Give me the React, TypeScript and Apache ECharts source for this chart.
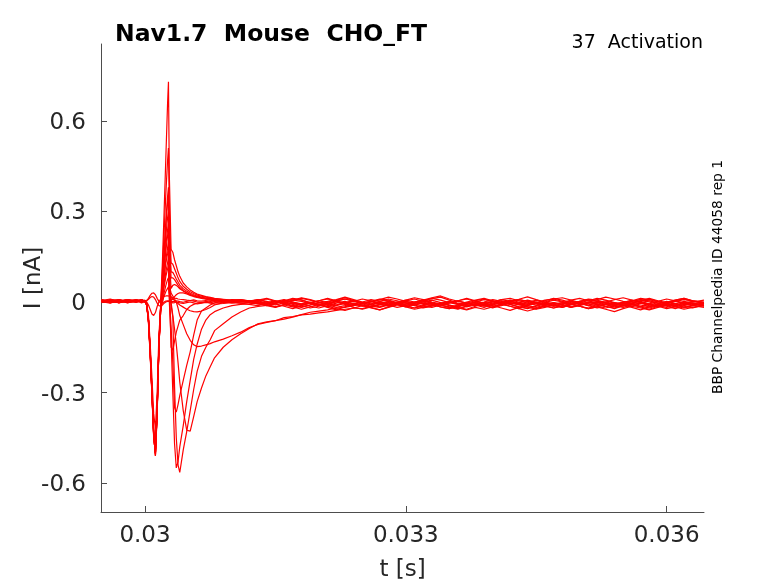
import React, { useEffect, useRef } from "react";
import * as echarts from "echarts";

// time grid in ms
const T_MS = [
  29.5, 29.6, 29.7, 29.8, 29.9, 29.96, 30,
  30.02, 30.04, 30.06, 30.08, 30.1, 30.12, 30.14, 30.16, 30.18, 30.2, 30.22, 30.24, 30.26, 30.27, 30.28, 30.3, 30.32, 30.34, 30.36, 30.38, 30.4,
  30.44, 30.48, 30.52, 30.56, 30.6, 30.65, 30.7, 30.75, 30.8, 30.9, 31, 31.1, 31.2,
  31.3, 31.4, 31.5, 31.6, 31.7, 31.8, 31.9, 32, 32.1, 32.2,
  32.3, 32.4, 32.5, 32.6, 32.7, 32.8, 32.9, 33, 33.1, 33.2,
  33.3, 33.4, 33.5, 33.6, 33.7, 33.8, 33.9, 34, 34.1, 34.2,
  34.3, 34.4, 34.5, 34.6, 34.7, 34.8, 34.9, 35, 35.1, 35.2,
  35.3, 35.4, 35.5, 35.6, 35.7, 35.8, 35.9, 36, 36.1, 36.2,
  36.3, 36.43,
];

// currents in pA
const trace01 = [
  5, 10, 2, 8, 3, 6, 4,
  5, 12, 22, 29, 30, 24, 12, 2, -4, -3, 0, 3, 4, 4, 3, 2, 1, 2, 4, 3, 1,
  -1, 2, 5, 3, 0, -2, 1, 4, 6, 2, -3, 0, 3,
  8, 2, -6, 4, 12, 7, -3, -9, 0, 6,
  14, 5, -4, 2, 10, 6, -2, -10, -5, 4,
  11, 16, 6, -4, -8, 0, 8, 4, -2, 2,
  9, 17, 8, 0, -6, -2, 6, 12, 4, -4,
  0, 8, 14, 6, -2, -6, 2, 10, 4, -4,
  0, 6,
];
const trace02 = [
  1, -4, 6, 0, 5, -3, 2,
  4, 9, 15, 18, 16, 8, -4, -12, -14, -10, -4, 0, 2, 2, 1, -1, -3, -2, 0, -1, -3,
  -5, -2, 0, -3, -6, -4, -1, -3, -7, -5, -2, -4, -8,
  -12, -4, 2, -6, -14, -18, -10, -2, -6, -12,
  -4, 4, -2, -10, -16, -8, 0, -4, -12, -20,
  -14, -6, 0, -8, -16, -10, -2, 2, -6, -14,
  -22, -12, -4, -8, -2, -10, -18, -12, -4, 0,
  -8, -16, -10, -6, -14, -20, -12, -2, -6, -10,
  -4, -12,
];
const trace03 = [
  6, 2, -2, 8, 4, 0, 5,
  0, -10, -25, -40, -45, -35, -15, 0, 10, 15, 18, 20, 20, 20, 19, 17, 15, 13, 12, 10, 9,
  8, 6, 5, 7, 4, 3, 5, 2, 4, 1, 3, 0, 2,
  8, 0, -4, 2, 10, 6, -2, 4, 12, 4,
  -4, -8, 0, 8, 2, -6, 0, 6, 14, 8,
  0, -6, -2, 4, 10, 2, -4, 0, 8, 12,
  4, -4, -10, -2, 6, 0, -6, 2, 10, 6,
  -2, -8, 0, 4, 12, 8, 0, -4, 2, 8,
  4, -2,
];
const trace04 = [
  2, 7, 4, -3, 6, 1, 3,
  -6, -45, -140, -250, -370, -420, -300, -110, -20, 0, 20, 35, 45, 50, 30, 15, 10, 5, 0, -5, -10,
  -17, -24, -29, -32, -33, -30, -25, -18, -10, -2, 6, 4, 2,
  -2, -8, -16, -10, -4, -12, -20, -14, -6, 0,
  -8, -18, -24, -16, -8, -12, -4, 2, -6, -14,
  -18, -10, -16, -22, -14, -6, -10, -18, -12, -4,
  -8, -16, -24, -18, -10, -2, -8, -14, -20, -12,
  -6, -12, -18, -10, -4, -12, -16, -8, -14, -20,
  -12, -6,
];
const trace05 = [
  7, -1, 3, 8, 1, 2, 5,
  -8, -55, -160, -290, -430, -490, -350, -140, -30, 0, 30, 55, 75, 80, 50, 30, 20, 10, 0, -20, -45,
  -75, -105, -127, -142, -148, -146, -142, -138, -132, -123, -112, -100, -85,
  -74, -68, -62, -57, -50, -42, -34, -30, -26, -20,
  -18, -12, -6, -14, -10, -2, -8, -16, -10, -4,
  -8, -16, -22, -12, -4, -10, -18, -8, -2, -8,
  -16, -20, -12, -4, -10, -18, -8, 0, -6, -14,
  -20, -12, -4, -8, -16, -24, -14, -6, -10, -18,
  -12, -4,
];
const trace06 = [
  -2, 5, 2, 7, -1, 4, 1,
  -10, -60, -165, -300, -440, -500, -360, -150, -30, 10, 50, 85, 110, 120, 40, 0, -45, -90, -140, -200, -265,
  -360, -425, -428, -380, -330, -285, -245, -215, -185, -150, -125, -105, -88,
  -72, -66, -62, -52, -48, -43, -40, -36, -33, -28,
  -24, -20, -22, -14, -18, -10, -4, -12, -20, -12,
  -4, -10, -18, -24, -14, -6, -12, -20, -10, -2,
  -8, -16, -22, -12, -4, -10, -18, -8, 0, -8,
  -14, -22, -12, -4, -10, -16, -6, 2, -6, -14,
  -20, -10,
];
const trace07 = [
  3, -1, 6, 2, 5, 8, 2,
  -9, -60, -160, -290, -430, -490, -350, -140, -20, 20, 60, 100, 130, 150, 30, -10, -50, -280, -450, -540, -565,
  -490, -430, -360, -290, -230, -180, -150, -125, -95, -72, -50, -33, -20,
  -15, -11, -6, -14, -22, -12, -4, -10, -18, -26,
  -16, -8, -12, -20, -26, -16, -8, -2, -10, -18,
  -12, -4, -10, -18, -24, -14, -6, -12, -20, -28,
  -18, -10, -4, -12, -20, -14, -6, -14, -22, -16,
  -8, -2, -10, -18, -26, -16, -8, -14, -22, -12,
  -4, -10,
];
const trace08 = [
  1, 6, -2, 3, 8, 2, 0,
  -10, -65, -170, -305, -445, -505, -360, -140, -20, 30, 80, 130, 160, 180, 0, -120, -300, -470, -550, -530, -480,
  -410, -330, -260, -190, -140, -90, -60, -42, -32, -20, -12, -8, -6,
  -3, -10, -16, -8, 0, -6, -14, -20, -12, -4,
  2, -6, -14, -8, -2, -10, -18, -12, -4, 0,
  -8, -16, -22, -14, -6, 0, -8, -14, -6, 2,
  -4, -12, -18, -10, -2, -8, -16, -10, -2, -6,
  -14, -20, -12, -4, 2, -6, -12, -18, -10, -2,
  -8, -14,
];
const trace09 = [
  6, 2, 8, -1, 3, 7, 1,
  -10, -60, -165, -300, -440, -510, -370, -150, -30, 30, 90, 140, 180, 200, 20, -80, -200, -350, -365, -340, -310,
  -260, -210, -165, -110, -60, -30, -20, -10, -3, 3, 8, 6, 4,
  2, -6, -2, 6, -2, -10, -4, 4, 10, 2,
  -6, -12, -4, 2, -8, -14, -6, 4, 10, 2,
  -4, -10, -2, 4, -4, -12, -8, 0, 8, 2,
  -6, -2, 6, 0, -8, -14, -4, 2, 8, 2,
  -4, -10, -2, 6, -2, -10, -14, -6, 2, -4,
  -10, -2,
];
const trace10 = [
  2, -2, 4, 6, 0, 7, 3,
  -10, -60, -170, -300, -440, -500, -360, -150, -30, 40, 110, 170, 220, 240, 50, -150, -160, -130, -100, -80, -60,
  -45, -25, -14, -8, -4, -2, 0, -3, 1, -2, 0, -4, -1,
  4, -4, -10, -2, 6, 2, -6, -12, -4, 4,
  10, 2, -6, 0, 8, 4, -4, -8, 0, 6,
  -2, -10, -4, 4, 12, 4, -4, -10, -2, 6,
  0, -8, -2, 6, 10, 2, -6, 0, 8, 2,
  -4, -12, -6, 2, 8, 0, -8, -4, 4, 10,
  2, -4,
];
const trace11 = [
  7, 3, -2, 2, 8, 3, 1,
  -8, -55, -160, -290, -430, -490, -350, -140, -20, 50, 120, 190, 240, 260, 100, 5, 10, 18, 24, 28, 30,
  30, 27, 22, 18, 15, 12, 9, 7, 5, 3, 1, 3, -2,
  -6, -2, 4, -4, -12, -6, 0, -8, -16, -10,
  -2, 4, -4, -10, -4, 2, -6, -14, -8, 0,
  6, -2, -10, -16, -8, -2, -10, -4, 4, -2,
  -10, -6, 0, -8, -14, -6, 2, -4, -12, -8,
  0, -6, -14, -10, -2, 4, -4, -12, -6, 2,
  -4, -10,
];
const trace12 = [
  2, 7, 5, -2, 3, 2, 6,
  -10, -60, -165, -295, -435, -500, -360, -150, -25, 60, 140, 220, 280, 300, 140, 45, 55, 58, 55, 50, 44,
  36, 30, 25, 20, 17, 14, 11, 9, 7, 4, 2, 4, 0,
  6, 12, 4, -2, 6, 14, 8, 0, -6, 2,
  10, 4, -4, 0, 8, 16, 10, 2, -4, 4,
  12, 6, -2, -8, 0, 6, 12, 4, -4, 2,
  8, 2, -6, 0, 10, 14, 6, -2, 4, 12,
  6, -2, -6, 2, 8, 4, -4, 0, 6, 12,
  4, -2,
];
const trace13 = [
  3, -2, 2, 6, 1, 5, 2,
  -9, -60, -160, -290, -430, -490, -355, -145, -20, 70, 160, 250, 330, 350, 190, 80, 80, 74, 65, 56, 48,
  38, 31, 25, 20, 17, 14, 11, 9, 8, 5, 3, 5, 1,
  -6, -12, -4, 2, -8, -16, -10, -2, -8, -18,
  -12, -4, -10, -16, -8, 0, -6, -14, -20, -12,
  -4, -10, -18, -10, -2, -8, -14, -6, 0, -8,
  -16, -22, -14, -6, -12, -18, -10, -4, -12, -20,
  -14, -6, -2, -10, -16, -8, -14, -22, -16, -8,
  -12, -18,
];
const trace14 = [
  1, 4, 7, 2, -1, 3, 2,
  -10, -65, -175, -305, -445, -505, -360, -140, -15, 80, 170, 270, 350, 380, 220, 100, 98, 88, 76, 66, 56,
  44, 36, 29, 24, 20, 16, 13, 11, 9, 6, 4, 6, 2,
  0, -6, 2, 8, 0, -8, -4, 4, -2, -10,
  -4, 2, 10, 4, -4, -10, -2, 6, 0, -8,
  -12, -4, 2, -6, -12, -6, 0, 8, 2, -6,
  -2, 6, 0, -8, -14, -6, 2, -4, -10, -2,
  4, -4, -10, -4, 4, 10, 2, -6, -12, -4,
  2, -4,
];
const trace15 = [
  2, 6, -3, 4, 1, 8, 2,
  -8, -60, -170, -300, -440, -510, -370, -150, -20, 100, 230, 360, 470, 510, 300, 130, 125, 110, 95, 80, 68,
  52, 42, 34, 28, 23, 19, 16, 13, 11, 8, 5, 7, 3,
  -4, -12, -18, -10, -16, -24, -16, -8, -14, -22,
  -28, -20, -12, -18, -26, -18, -10, -16, -24, -18,
  -10, -4, -12, -20, -26, -18, -24, -16, -8, -14,
  -22, -30, -22, -14, -20, -12, -6, -14, -22, -16,
  -24, -32, -22, -14, -20, -26, -18, -10, -16, -24,
  -18, -12,
];
const trace16 = [
  5, 1, 8, 2, 6, -1, 3,
  -10, -70, -180, -310, -450, -500, -360, -140, -10, 130, 300, 480, 660, 730, 420, 175, 165, 140, 120, 100, 85,
  63, 50, 40, 32, 26, 22, 18, 15, 12, 9, 6, 8, 4,
  4, 10, 2, -4, 4, 12, 6, -2, 2, 8,
  16, 8, 0, -6, 2, 10, 4, -4, 0, 6,
  14, 20, 10, 2, -4, 4, 10, 2, -6, 0,
  8, 2, -4, 4, 12, 6, -2, -8, 0, 8,
  16, 10, 2, -4, 4, 12, 4, -2, 6, 12,
  4, 0,
];

const TRACES = [
  trace01, trace02, trace03, trace04, trace05, trace06, trace07, trace08,
  trace09, trace10, trace11, trace12, trace13, trace14, trace15, trace16,
];

const X_TICKS = [0.03, 0.033, 0.036];
const X_TICK_LABELS = ["0.03", "0.033", "0.036"];
const Y_TICKS = [-0.6, -0.3, 0, 0.3, 0.6];
const Y_TICK_LABELS = ["-0.6", "-0.3", "0", "0.3", "0.6"];
const X_RANGE = [0.029494, 0.03643];
const Y_RANGE = [-0.696, 0.855];

const TITLE = "Nav1.7  Mouse  CHO_FT";
const SUBTITLE = "37  Activation";
const SIDE_NOTE = "BBP Channelpedia ID 44058 rep 1";
const X_NAME = "t [s]";
const Y_NAME = "I [nA]";

const FONT = '"DejaVu Sans", sans-serif';
const AXIS_COLOR = "#4d4d4d";
const TEXT_COLOR = "#262626";

function lookup(ticks: number[], labels: string[], v: number) {
  const i = ticks.findIndex((t) => Math.abs(t - v) < 1e-9);
  return i >= 0 ? labels[i] : String(v);
}

export default function App() {
  const ref = useRef<HTMLDivElement>(null);
  useEffect(() => {
    if (!ref.current) return;
    const chart = echarts.init(ref.current, null, { renderer: "svg" });
    chart.setOption({
      animation: false,
      grid: { left: 101, right: 74, top: 44, bottom: 71, outerBoundsMode: "none" },
      xAxis: {
        type: "value",
        min: X_RANGE[0],
        max: X_RANGE[1],
        axisLine: { show: true, onZero: false, lineStyle: { color: AXIS_COLOR, width: 1 } },
        axisTick: { show: true, inside: true, length: 6, customValues: X_TICKS, lineStyle: { color: AXIS_COLOR } },
        axisLabel: {
          customValues: X_TICKS,
          formatter: (v: number) => lookup(X_TICKS, X_TICK_LABELS, v),
          color: TEXT_COLOR,
          fontSize: 23,
          fontFamily: FONT,
          margin: 10,
        },
        splitLine: { show: false },
        name: X_NAME,
        nameLocation: "middle",
        nameGap: 44,
        nameMoveOverlap: false,
        nameTextStyle: { fontSize: 23, color: TEXT_COLOR, fontFamily: FONT },
      },
      yAxis: {
        type: "value",
        min: Y_RANGE[0],
        max: Y_RANGE[1],
        axisLine: { show: true, onZero: false, lineStyle: { color: AXIS_COLOR, width: 1 } },
        axisTick: { show: true, inside: true, length: 6, customValues: Y_TICKS, lineStyle: { color: AXIS_COLOR } },
        axisLabel: {
          customValues: Y_TICKS,
          formatter: (v: number) => lookup(Y_TICKS, Y_TICK_LABELS, v),
          color: TEXT_COLOR,
          fontSize: 23,
          fontFamily: FONT,
          margin: 15,
        },
        splitLine: { show: false },
        name: Y_NAME,
        nameLocation: "middle",
        nameGap: 58,
        nameMoveOverlap: false,
        nameTextStyle: { fontSize: 23, color: TEXT_COLOR, fontFamily: FONT },
      },
      series: TRACES.map((vals, i) => ({
        name: "trace" + (i + 1),
        type: "line",
        data: vals.slice(0, T_MS.length).map((v, j) => [T_MS[j] / 1000, v / 1000]),
        showSymbol: false,
        symbol: "none",
        silent: true,
        lineStyle: { color: "#ff0000", width: 1.2 },
        emphasis: { disabled: true },
      })),
      graphic: [
        {
          type: "text",
          x: 115,
          y: 33,
          style: {
            text: TITLE,
            font: 'bold 23.5px "DejaVu Sans", sans-serif',
            fill: "#000",
            align: "left",
            verticalAlign: "middle",
            textAlign: "left",
            textVerticalAlign: "middle",
          },
        },
        {
          type: "text",
          x: 703,
          y: 41,
          style: {
            text: SUBTITLE,
            font: '19px "DejaVu Sans", sans-serif',
            fill: "#000",
            align: "right",
            verticalAlign: "middle",
            textAlign: "right",
            textVerticalAlign: "middle",
          },
        },
        {
          type: "text",
          x: 717,
          y: 277,
          rotation: Math.PI / 2,
          style: {
            text: SIDE_NOTE,
            font: '13.8px "DejaVu Sans", sans-serif',
            fill: "#000",
            align: "center",
            verticalAlign: "middle",
            textAlign: "center",
            textVerticalAlign: "middle",
          },
        },
      ],
    });
    return () => chart.dispose();
  }, []);
  return (
    <div
      ref={ref}
      style={{ position: "fixed", left: 0, top: 0, width: 778, height: 583 }}
    />
  );
}
